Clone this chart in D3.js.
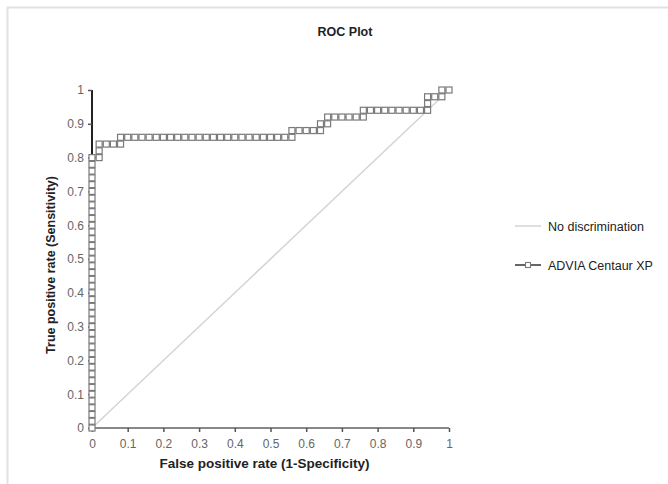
<!DOCTYPE html>
<html>
<head>
<meta charset="utf-8">
<script src="https://cdn.jsdelivr.net/npm/d3@7"></script>
<style>
  body { margin: 0; background: #fff; }
  svg { display: block; font-family: "Liberation Sans", Arial, sans-serif; }
</style>
</head>
<body>
<svg id="chart" width="668" height="484"></svg>
<script>
// ROC curve points (false positive rate, true positive rate)
const fpr = [
  0,0,0,0,0,0,0,0,0,0,0,0,0,0,0,0,0,0,0,0,0,0,0,0,0,0,0,0,0,0,0,0,0,0,0,0,0,0,0,0,0,
  0.02,0.02,0.02,0.04,0.06,0.08,0.08,
  0.10,0.12,0.14,0.16,0.18,0.20,0.22,0.24,0.26,0.28,0.30,0.32,0.34,0.36,0.38,0.40,0.42,0.44,0.46,0.48,0.50,0.52,0.54,0.56,
  0.56,0.58,0.60,0.62,0.64,0.64,0.66,0.66,
  0.68,0.70,0.72,0.74,0.76,0.76,
  0.78,0.80,0.82,0.84,0.86,0.88,0.90,0.92,0.94,
  0.94,0.94,0.96,0.98,0.98,1.00
];
const tpr = [
  0,0.02,0.04,0.06,0.08,0.10,0.12,0.14,0.16,0.18,0.20,0.22,0.24,0.26,0.28,0.30,0.32,0.34,0.36,0.38,0.40,
  0.42,0.44,0.46,0.48,0.50,0.52,0.54,0.56,0.58,0.60,0.62,0.64,0.66,0.68,0.70,0.72,0.74,0.76,0.78,0.80,
  0.80,0.82,0.84,0.84,0.84,0.84,0.86,
  0.86,0.86,0.86,0.86,0.86,0.86,0.86,0.86,0.86,0.86,0.86,0.86,0.86,0.86,0.86,0.86,0.86,0.86,0.86,0.86,0.86,0.86,0.86,0.86,
  0.88,0.88,0.88,0.88,0.88,0.90,0.90,0.92,
  0.92,0.92,0.92,0.92,0.92,0.94,
  0.94,0.94,0.94,0.94,0.94,0.94,0.94,0.94,0.94,
  0.96,0.98,0.98,0.98,1.00,1.00
];
const diagonal = [0, 1];
const tickValues = [0, 0.1, 0.2, 0.3, 0.4, 0.5, 0.6, 0.7, 0.8, 0.9, 1];
const tickLabels = ['0', '0.1', '0.2', '0.3', '0.4', '0.5', '0.6', '0.7', '0.8', '0.9', '1'];
const legendNames = ['No discrimination', 'ADVIA Centaur XP'];

const svg = d3.select('#chart');
const plot = { left: 92, right: 449, top: 90, bottom: 428 };

const x = d3.scaleLinear().domain([0, 1]).range([plot.left, plot.right]);
const y = d3.scaleLinear().domain([0, 1]).range([plot.bottom, plot.top]);

// outer frame
svg.append('path')
  .attr('d', 'M7.5,484V7.5H668')
  .attr('fill', 'none')
  .attr('stroke', '#e2e2e2')
  .attr('stroke-width', 2);

// title
svg.append('text')
  .attr('x', 345).attr('y', 36)
  .attr('text-anchor', 'middle')
  .attr('font-size', 12.5).attr('font-weight', 'bold')
  .attr('fill', '#222')
  .text('ROC Plot');

// axes
const xAxis = d3.axisBottom(x).tickValues(tickValues).tickSize(4)
  .tickFormat((d, i) => tickLabels[i]);
const yAxis = d3.axisLeft(y).tickValues(tickValues).tickSize(4)
  .tickFormat((d, i) => tickLabels[i]);

const gx = svg.append('g').attr('transform', `translate(0,${plot.bottom})`).call(xAxis);
gx.select('.domain').attr('stroke', '#888').attr('stroke-width', 2).attr('d', `M${plot.left},0H${plot.right}`);
gx.selectAll('.tick line').attr('stroke', '#555').attr('stroke-width', 1.5);
gx.selectAll('.tick text').attr('font-size', 12).attr('fill', '#666').attr('dy', '1.05em')
  .style('font-family', '"Liberation Sans", Arial, sans-serif');

const gy = svg.append('g').attr('transform', `translate(${plot.left},0)`).call(yAxis);
gy.select('.domain').attr('stroke', '#222').attr('stroke-width', 2).attr('d', `M0,${plot.top}V${plot.bottom}`);
gy.selectAll('.tick line').attr('stroke', '#555').attr('stroke-width', 1.5);
gy.selectAll('.tick text').attr('font-size', 12).attr('fill', '#666').attr('x', -8)
  .style('font-family', '"Liberation Sans", Arial, sans-serif');

// axis titles
svg.append('text')
  .attr('x', (plot.left + plot.right) / 2 - 6).attr('y', 468)
  .attr('text-anchor', 'middle')
  .attr('font-size', 13.5).attr('font-weight', 'bold').attr('fill', '#222')
  .text('False positive rate (1-Specificity)');

svg.append('text')
  .attr('transform', `translate(55,${(plot.top + plot.bottom) / 2 + 6}) rotate(-90)`)
  .attr('text-anchor', 'middle')
  .attr('font-size', 12.5).attr('font-weight', 'bold').attr('fill', '#222')
  .text('True positive rate (Sensitivity)');

// no discrimination line
svg.append('line')
  .attr('x1', x(diagonal[0])).attr('y1', y(diagonal[0]))
  .attr('x2', x(diagonal[1])).attr('y2', y(diagonal[1]))
  .attr('stroke', '#d4d4d4').attr('stroke-width', 1.5);

// ROC curve
const pts = fpr.map((f, i) => [f, tpr[i]]);
svg.append('path')
  .datum(pts)
  .attr('d', d3.line().x(d => x(d[0])).y(d => y(d[1])))
  .attr('fill', 'none')
  .attr('stroke', '#777').attr('stroke-width', 1);

const sq = 6;
svg.append('g').selectAll('rect')
  .data(pts)
  .join('rect')
  .attr('x', d => x(d[0]) - sq / 2)
  .attr('y', d => y(d[1]) - sq / 2)
  .attr('width', sq).attr('height', sq)
  .attr('fill', '#fff')
  .attr('stroke', '#7a7a7a').attr('stroke-width', 1.2);

// legend
const legend = svg.append('g').attr('transform', 'translate(515,226)');
legend.append('line').attr('x1', 0).attr('x2', 26).attr('y1', 0).attr('y2', 0)
  .attr('stroke', '#d4d4d4').attr('stroke-width', 1.5);
legend.append('text').attr('x', 33).attr('y', 4.5)
  .attr('font-size', 12.5).attr('fill', '#222').text(legendNames[0]);

const l2 = legend.append('g').attr('transform', 'translate(0,39)');
l2.append('line').attr('x1', 0).attr('x2', 26).attr('y1', 0).attr('y2', 0)
  .attr('stroke', '#333').attr('stroke-width', 1.5);
l2.append('rect').attr('x', 13 - 2.5).attr('y', -2.5).attr('width', 5).attr('height', 5)
  .attr('fill', '#fff').attr('stroke', '#7a7a7a').attr('stroke-width', 1.1);
l2.append('text').attr('x', 33).attr('y', 4.5)
  .attr('font-size', 12.5).attr('fill', '#222').text(legendNames[1]);
</script>
</body>
</html>
